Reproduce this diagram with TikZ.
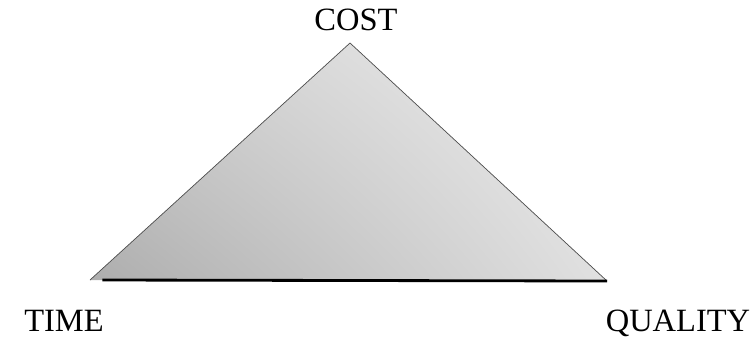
\documentclass[tikz,border=0pt]{standalone}
\usepackage{fontspec}
\setmainfont{Liberation Serif}
\usetikzlibrary{positioning, shadings}

\begin{document}
\begin{tikzpicture}[x=0.02cm, y=-0.02cm]
		% Frame of the picture
		\useasboundingbox (0,0) rectangle (750,342);

		% Corners of the triangle
		\coordinate (top) at (350,43);
		\coordinate (left) at (90,280);
		\coordinate (right) at (607,281);

		% Shaded triangle
		\shade[lower left=black!32, upper right=black!6, lower right=black!12, upper left=black!20] (top) -- (left) -- (right) -- cycle;
		\draw[thin, black!70] (left) -- (top) -- (right);
		% Base line
		\draw[line width=1.6pt] ([xshift=7]left) -- (right);

		% Labels
		\node[anchor=base, font=\fontsize{18.5}{20}\selectfont] (cost) at (356,30) {COST};
		\node[anchor=base, font=\fontsize{18.5}{20}\selectfont] (time) at (64,331) {TIME};
		\node[anchor=base, font=\fontsize{18.5}{20}\selectfont] (quality) at (678,331) {QUALITY};
	\end{tikzpicture}
\end{document}
